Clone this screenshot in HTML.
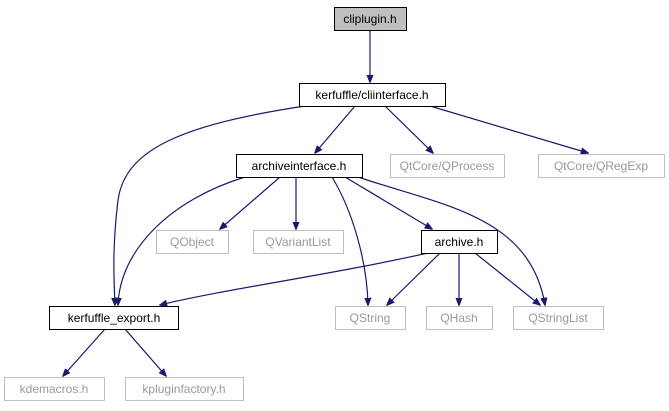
<!DOCTYPE html>
<html><head><meta charset="utf-8"><style>
html,body{margin:0;padding:0;background:#fff;}
svg{display:block;}
text{font-family:"Liberation Sans",sans-serif;font-size:12px;text-anchor:middle;}
.e{fill:none;stroke:#191970;stroke-width:1.2;}
.b{fill:#fff;stroke:#000;stroke-width:1;}
.g{fill:#fff;stroke:#bfbfbf;stroke-width:1;}
.gt{fill:#999;}
</style></head><body>
<svg width="669" height="411" viewBox="0 0 669 411">
<defs><marker id="a" viewBox="0 0 10 10" refX="9" refY="5" markerWidth="8" markerHeight="8" orient="auto" markerUnits="userSpaceOnUse"><path d="M0,1 L10,5 L0,9 z" fill="#191970" stroke="#191970"/></marker></defs>
<g marker-end="url(#a)">
<path class="e" d="M370,30 L370,82"/>
<path class="e" d="M355,106 L315,153"/>
<path class="e" d="M385,106 L433,153"/>
<path class="e" d="M430,106 L588,153"/>
<path class="e" d="M305,106 C180,125 125,150 118,200 C112,250 114,280 115,305"/>
<path class="e" d="M280,177 L220,229"/>
<path class="e" d="M296,177 L296,229"/>
<path class="e" d="M332,177 C352,210 367,260 368,305"/>
<path class="e" d="M345,177 L432,229"/>
<path class="e" d="M358,177 C440,205 530,215 545,305"/>
<path class="e" d="M245,177 C170,200 120,250 118,305"/>
<path class="e" d="M428,253 C330,275 220,290 160,305"/>
<path class="e" d="M440,253 L387,305"/>
<path class="e" d="M459,253 L459,305"/>
<path class="e" d="M475,253 L540,305"/>
<path class="e" d="M105,329 L63,376"/>
<path class="e" d="M125,329 L166,376"/>
</g>
<rect x="334.5" y="7.5" width="72" height="23" fill="#bfbfbf" stroke="#000"/>
<text x="370" y="23">cliplugin.h</text>
<rect class="b" x="299.5" y="83.5" width="146" height="23"/><text x="372" y="99">kerfuffle/cliinterface.h</text>
<rect class="b" x="236.5" y="154.5" width="126" height="23"/><text x="299" y="170">archiveinterface.h</text>
<rect class="g" x="390.5" y="154.5" width="114" height="23"/><text class="gt" x="447" y="170">QtCore/QProcess</text>
<rect class="g" x="538.5" y="154.5" width="126" height="23"/><text class="gt" x="601" y="170">QtCore/QRegExp</text>
<rect class="g" x="156.5" y="230.5" width="72" height="23"/><text class="gt" x="192" y="246">QObject</text>
<rect class="g" x="253.5" y="230.5" width="90" height="23"/><text class="gt" x="298" y="246">QVariantList</text>
<rect class="b" x="421.5" y="230.5" width="76" height="23"/><text x="459" y="246">archive.h</text>
<rect class="b" x="49.5" y="306.5" width="129" height="23"/><text x="114" y="322">kerfuffle_export.h</text>
<rect class="g" x="335.5" y="306.5" width="70" height="23"/><text class="gt" x="370" y="322">QString</text>
<rect class="g" x="426.5" y="306.5" width="66" height="23"/><text class="gt" x="459" y="322">QHash</text>
<rect class="g" x="513.5" y="306.5" width="90" height="23"/><text class="gt" x="558" y="322">QStringList</text>
<rect class="g" x="4.5" y="377.5" width="100" height="23"/><text class="gt" x="54" y="393">kdemacros.h</text>
<rect class="g" x="125.5" y="377.5" width="118" height="23"/><text class="gt" x="184" y="393">kpluginfactory.h</text>
</svg>
</body></html>
